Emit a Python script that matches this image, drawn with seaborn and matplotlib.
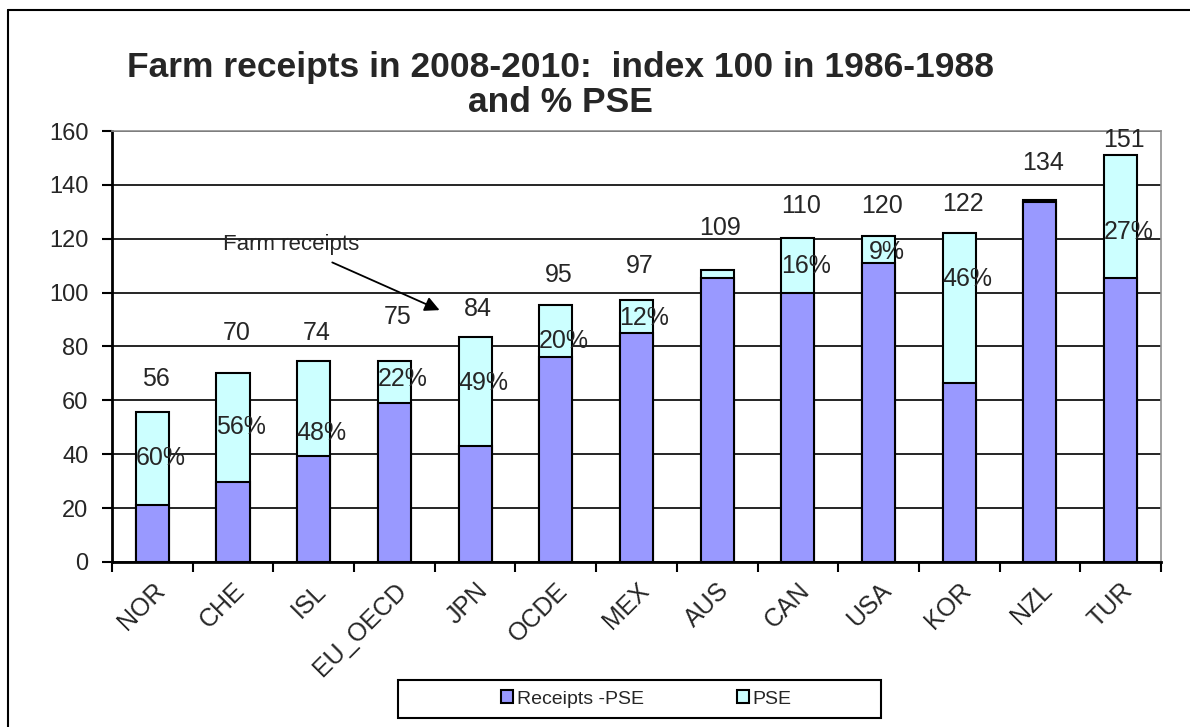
import matplotlib
matplotlib.use("Agg")
import matplotlib.pyplot as plt
import seaborn as sns
import pandas as pd
from matplotlib.lines import Line2D
from matplotlib.patches import Patch, Rectangle

# Data
countries = ["NOR", "CHE", "ISL", "EU_OECD", "JPN", "OCDE", "MEX",
             "AUS", "CAN", "USA", "KOR", "NZL", "TUR"]
total_receipts = [55.8, 70.0, 74.5, 74.5, 83.6, 95.5, 97.2,
                  108.4, 120.3, 121.2, 122.0, 134.4, 151.0]
receipts_minus_pse = [21.2, 29.8, 39.3, 58.9, 43.2, 76.0, 85.0,
                      105.4, 100.0, 111.1, 66.4, 133.5, 105.3]
total_labels = ["56", "70", "74", "75", "84", "95", "97",
                "109", "110", "120", "122", "134", "151"]
pse_labels = ["60%", "56%", "48%", "22%", "49%", "20%", "12%",
              "", "16%", "9%", "46%", "", "27%"]

# where the text labels sit (data units)
total_label_y = [68, 85, 85, 91, 94, 106.5, 110, 124, 132, 132, 133, 148, 156.6]
pse_label_y = [38.6, 50, 48, 68, 66.5, 82, 90.5, None, 110, 115, 105, None, 122.5]

df = pd.DataFrame({"country": countries,
                   "total": total_receipts,
                   "base": receipts_minus_pse})

sns.set_style("white")
plt.rcParams["font.family"] = ["Liberation Sans", "DejaVu Sans"]

PURPLE = "#9999FF"
CYAN = "#CCFFFF"

fig = plt.figure(figsize=(11.9, 7.27), dpi=100)
ax = fig.add_axes([0.0941, 0.2270, 0.8815, 0.5928])

sns.barplot(data=df, x="country", y="total", color=CYAN, width=0.41,
            edgecolor="black", linewidth=1.5, saturation=1, ax=ax, zorder=3)
sns.barplot(data=df, x="country", y="base", color=PURPLE, width=0.41,
            edgecolor="black", linewidth=1.5, saturation=1, ax=ax, zorder=3)

ax.set_xlim(-0.5, len(countries) - 0.5)
ax.set_ylim(0, 160)
ax.set_yticks(range(0, 161, 20))
ax.yaxis.grid(True, color="black", linewidth=1.2, zorder=0)
ax.set_axisbelow(True)
ax.set_xlabel("")
ax.set_ylabel("")

# spines
for s in ["left", "bottom"]:
    ax.spines[s].set_color("black")
    ax.spines[s].set_linewidth(2)
for s in ["top", "right"]:
    ax.spines[s].set_color("#909090")
    ax.spines[s].set_linewidth(1.2)

# ticks: labels at centres, tick marks at category boundaries
ax.set_xticks(range(len(countries)))
ax.set_xticklabels(countries, rotation=45, ha="right", rotation_mode="anchor",
                   fontsize=18)
ax.set_xticks([i - 0.5 for i in range(len(countries) + 1)], minor=True)
ax.tick_params(axis="x", which="major", length=0, pad=12)
ax.tick_params(axis="x", which="minor", length=7, width=1.5, color="black",
               direction="out", bottom=True)
ax.tick_params(axis="y", length=7, width=1.5, color="black", direction="out",
               left=True, labelsize=17, pad=10)

# value labels
for i, (lab, y) in enumerate(zip(total_labels, total_label_y)):
    ax.text(i + 0.04, y, lab, ha="center", va="center", fontsize=18, zorder=5)
for i, (lab, y) in enumerate(zip(pse_labels, pse_label_y)):
    if lab:
        ax.text(i + 0.1, y, lab, ha="center", va="center", fontsize=18, zorder=5)

# arrow annotation
ax.annotate("Farm receipts", xy=(3.56, 93.5), xytext=(1.72, 118),
            ha="center", va="center", fontsize=16,
            arrowprops=dict(arrowstyle="-|>", color="black", lw=1.3,
                            mutation_scale=22, shrinkA=8, shrinkB=0),
            zorder=6)

# title
fig.text(0.471, 0.883, "Farm receipts in 2008-2010:  index 100 in 1986-1988\nand % PSE",
         ha="center", va="center", fontsize=25.5, fontweight="bold", linespacing=1.05)

# legend: box drawn separately, entries placed inside it
fig.add_artist(Rectangle((398 / 1190, 1 - 718 / 727), 483 / 1190, 38 / 727,
                         transform=fig.transFigure, facecolor="white",
                         edgecolor="black", linewidth=1.5))
handles = [Patch(facecolor=PURPLE, edgecolor="black", linewidth=1.5, label="Receipts -PSE"),
           Patch(facecolor=CYAN, edgecolor="black", linewidth=1.5, label="PSE")]
leg = fig.legend(handles=handles, loc="center", bbox_to_anchor=(0.543, 0.0385),
                 ncol=2, frameon=False, fontsize=14,
                 handlelength=0.6, handleheight=0.6, handletextpad=0.2,
                 columnspacing=4.8, borderpad=0, borderaxespad=0)

# outer frame
fig.add_artist(Line2D([8 / 1190, 8 / 1190], [0, 1 - 10 / 727], color="black",
                      linewidth=1.5, transform=fig.transFigure))
fig.add_artist(Line2D([8 / 1190, 1], [1 - 10 / 727, 1 - 10 / 727], color="black",
                      linewidth=1.5, transform=fig.transFigure))

fig.savefig("out.png", dpi=100)
